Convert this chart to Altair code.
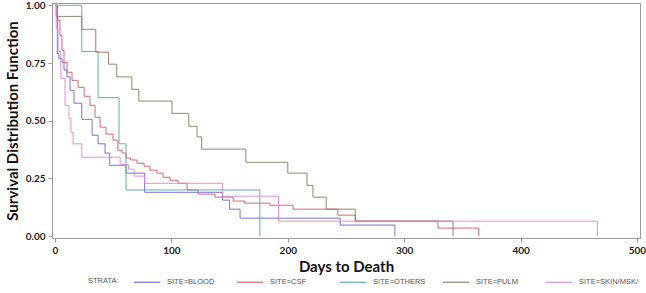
import altair as alt
import pandas as pd

# ---- data (Kaplan-Meier step curves) ----
sites = ["SITE=BLOOD", "SITE=CSF", "SITE=OTHERS", "SITE=PULM", "SITE=SKIN/MSK/"]
colors = ["#6a64d2", "#d0566a", "#52a6a2", "#8e7660", "#d884e0"]

blood_days = [0, 2, 3.4, 6, 7.7, 10.3, 12.9, 16.3, 23, 31.8, 37, 43, 47, 61, 77, 144, 150, 159, 245, 292]
blood_surv = [1.0, 0.79, 0.77, 0.753, 0.72, 0.69, 0.632, 0.576, 0.506, 0.437, 0.40, 0.36, 0.307, 0.273, 0.19, 0.156, 0.117, 0.078, 0.048, 0.0]

csf_days = [0, 1.7, 2.6, 4.3, 6, 7.7, 10.3, 14.6, 19.8, 25, 30, 34.4, 38.7, 43.8, 49.8, 54, 57.6, 61, 65,
            70.4, 76.5, 81.6, 87.6, 92.8, 98.8, 105.7, 113.4, 122.9, 137.5, 153, 163, 184.7, 204.5, 243, 258, 329, 364]
csf_surv = [1.0, 0.944, 0.935, 0.87, 0.805, 0.753, 0.71, 0.675, 0.645, 0.606, 0.567, 0.515, 0.472, 0.442, 0.416, 0.372, 0.36, 0.338, 0.33,
            0.316, 0.303, 0.286, 0.273, 0.255, 0.242, 0.229, 0.2, 0.182, 0.169, 0.152, 0.143, 0.134, 0.117, 0.091, 0.065, 0.035, 0.0]

others_days = [0, 23, 37, 55, 61, 176]
others_surv = [1.0, 0.8, 0.6, 0.4, 0.2, 0.0]

pulm_days = [0, 1, 23, 35, 46, 53, 66, 72, 100.5, 115, 122, 126, 164, 200, 216.5, 221.6, 233, 258, 342]
pulm_surv = [1.0, 0.952, 0.896, 0.797, 0.745, 0.69, 0.636, 0.585, 0.532, 0.476, 0.43, 0.377, 0.32, 0.273, 0.22, 0.169, 0.117, 0.065, 0.0]

skin_days = [0, 1, 2.6, 5, 8.6, 12, 13.7, 15.5, 23, 56, 63, 68, 77, 144, 192, 466]
skin_surv = [1.0, 0.9, 0.8, 0.684, 0.567, 0.51, 0.45, 0.40, 0.342, 0.31, 0.29, 0.26, 0.229, 0.173, 0.065, 0.0]

x_ticks = [0, 100, 200, 300, 400, 500]
y_ticks = [0, 0.25, 0.5, 0.75, 1.0]

series = [(sites[0], blood_days, blood_surv), (sites[1], csf_days, csf_surv),
          (sites[2], others_days, others_surv), (sites[3], pulm_days, pulm_surv),
          (sites[4], skin_days, skin_surv)]
rows = []
for name, d, s in series:
    for i, (dd, ss) in enumerate(zip(d, s)):
        rows.append({"site": name, "day": dd, "surv": ss, "order": i})
df = pd.DataFrame(rows)

FONT = "Lato"

chart = alt.Chart(df).mark_line(interpolate="step-after", strokeWidth=1, opacity=0.9).encode(
    x=alt.X("day:Q",
            scale=alt.Scale(domain=[-2.6, 502.6], nice=False, zero=False),
            axis=alt.Axis(values=x_ticks, title="Days to Death", grid=False,
                          labelFont=FONT, labelFontWeight="bold", labelFontSize=10, labelColor="#222",
                          titleFont=FONT, titleFontWeight="bold", titleFontSize=15, titleColor="#111",
                          tickSize=4, tickColor="#999", domainColor="#999", labelPadding=3, titlePadding=4)),
    y=alt.Y("surv:Q",
            scale=alt.Scale(domain=[-0.008, 1.01], nice=False, zero=False),
            axis=alt.Axis(values=y_ticks, format=".2f", title="Survival Distribution Function", grid=False,
                          labelFont=FONT, labelFontWeight="bold", labelFontSize=10, labelColor="#222",
                          titleFont=FONT, titleFontWeight="bold", titleFontSize=15, titleColor="#111",
                          tickSize=4, tickColor="#999", domainColor="#999", labelPadding=3, titlePadding=5)),
    color=alt.Color("site:N", scale=alt.Scale(domain=sites, range=colors),
                    legend=alt.Legend(title="STRATA:", orient="none", legendX=36, legendY=265,
                                      direction="horizontal", titleOrient="left", titleAnchor="middle",
                                      titleBaseline="top", gridAlign="all",
                                      columns=5, columnPadding=8, symbolType="stroke", symbolSize=700,
                                      symbolStrokeWidth=1.2, labelFont="Liberation Sans", labelFontSize=7.5,
                                      labelColor="#555", titleFont="Liberation Sans", titleFontSize=7.5,
                                      titleFontWeight="normal", titleColor="#555", titlePadding=14,
                                      labelOffset=6)),
    order=alt.Order("order:Q"),
).properties(
    width=588, height=235,
    autosize=alt.AutoSizeParams(type="none"),
    padding={"left": 52, "top": 3, "right": 6, "bottom": 55},
).configure_view(stroke="#999", strokeWidth=1)

chart.save("out.html", embed_options={"renderer": "svg", "actions": False})
